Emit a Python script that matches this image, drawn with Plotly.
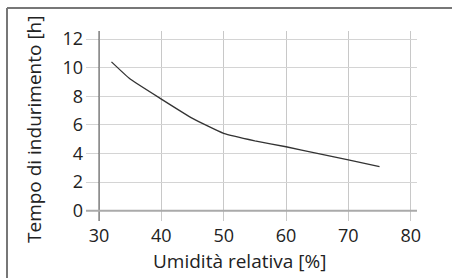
import plotly.graph_objects as go

humidity = [32, 35, 40, 45, 50, 55, 60, 65, 70, 75]
hardening_time = [10.4, 9.2, 7.8, 6.45, 5.4, 4.88, 4.47, 4.0, 3.55, 3.08]
x_ticks = [30, 40, 50, 60, 70, 80]
y_ticks = [0, 2, 4, 6, 8, 10, 12]
x_title = "Umidità relativa [%]"
y_title = "Tempo di indurimento [h]"

W, H = 452, 278
L, R, T, B = 86, 417, 31, 221
x_range = [27.915, 81.01]
y_range = [-0.72, 12.56]

font = "'Open Sans', sans-serif"


def px_x(p):
    return (p - L) / (R - L)


def px_y(p):
    return (B - p) / (B - T)


fig = go.Figure()
fig.add_trace(go.Scatter(x=humidity, y=hardening_time, mode="lines",
                         line=dict(color="#333333", width=1.3, shape="spline", smoothing=0.4),
                         showlegend=False, hoverinfo="skip"))

fig.update_layout(
    width=W, height=H,
    margin=dict(l=L, r=W - R, t=T, b=H - B),
    paper_bgcolor="white", plot_bgcolor="white",
    font=dict(family=font, size=18, color="#222222"),
    xaxis=dict(range=x_range, tickvals=x_ticks, showgrid=True, gridcolor="#c8c8c8", gridwidth=1,
               zeroline=False, showline=False, ticks="", ticklabelstandoff=2,
               tickfont=dict(size=18)),
    yaxis=dict(range=y_range, tickvals=y_ticks, showgrid=True, gridcolor="#d4d4d4", gridwidth=1.3,
               zeroline=False, showline=False, ticks="", ticklabelstandoff=2,
               tickfont=dict(size=18)),
    annotations=[
        dict(text=x_title, xref="paper", yref="paper", x=px_x(239), y=px_y(261),
             xanchor="center", yanchor="middle", showarrow=False, font=dict(size=19)),
        dict(text=y_title, xref="paper", yref="paper", x=px_x(34), y=px_y(129),
             xanchor="center", yanchor="middle", showarrow=False, textangle=-90,
             font=dict(size=19)),
    ],
    shapes=[
        dict(type="line", xref="x", yref="paper", x0=30, x1=30, y0=0, y1=1,
             line=dict(color="#555555", width=1)),
        dict(type="line", xref="paper", yref="y", x0=0, x1=1, y0=0, y1=0,
             line=dict(color="#aaaaaa", width=2)),
        dict(type="line", xref="paper", yref="paper",
             x0=px_x(7), x1=px_x(7), y0=px_y(H + 5), y1=px_y(8),
             line=dict(color="#777777", width=2)),
        dict(type="line", xref="paper", yref="paper",
             x0=px_x(7), x1=px_x(W + 5), y0=px_y(8), y1=px_y(8),
             line=dict(color="#777777", width=2)),
    ],
)

fig.write_html("out.html", config={"displayModeBar": False},
               post_script="document.body.style.margin='0';document.body.style.overflow='hidden';")
